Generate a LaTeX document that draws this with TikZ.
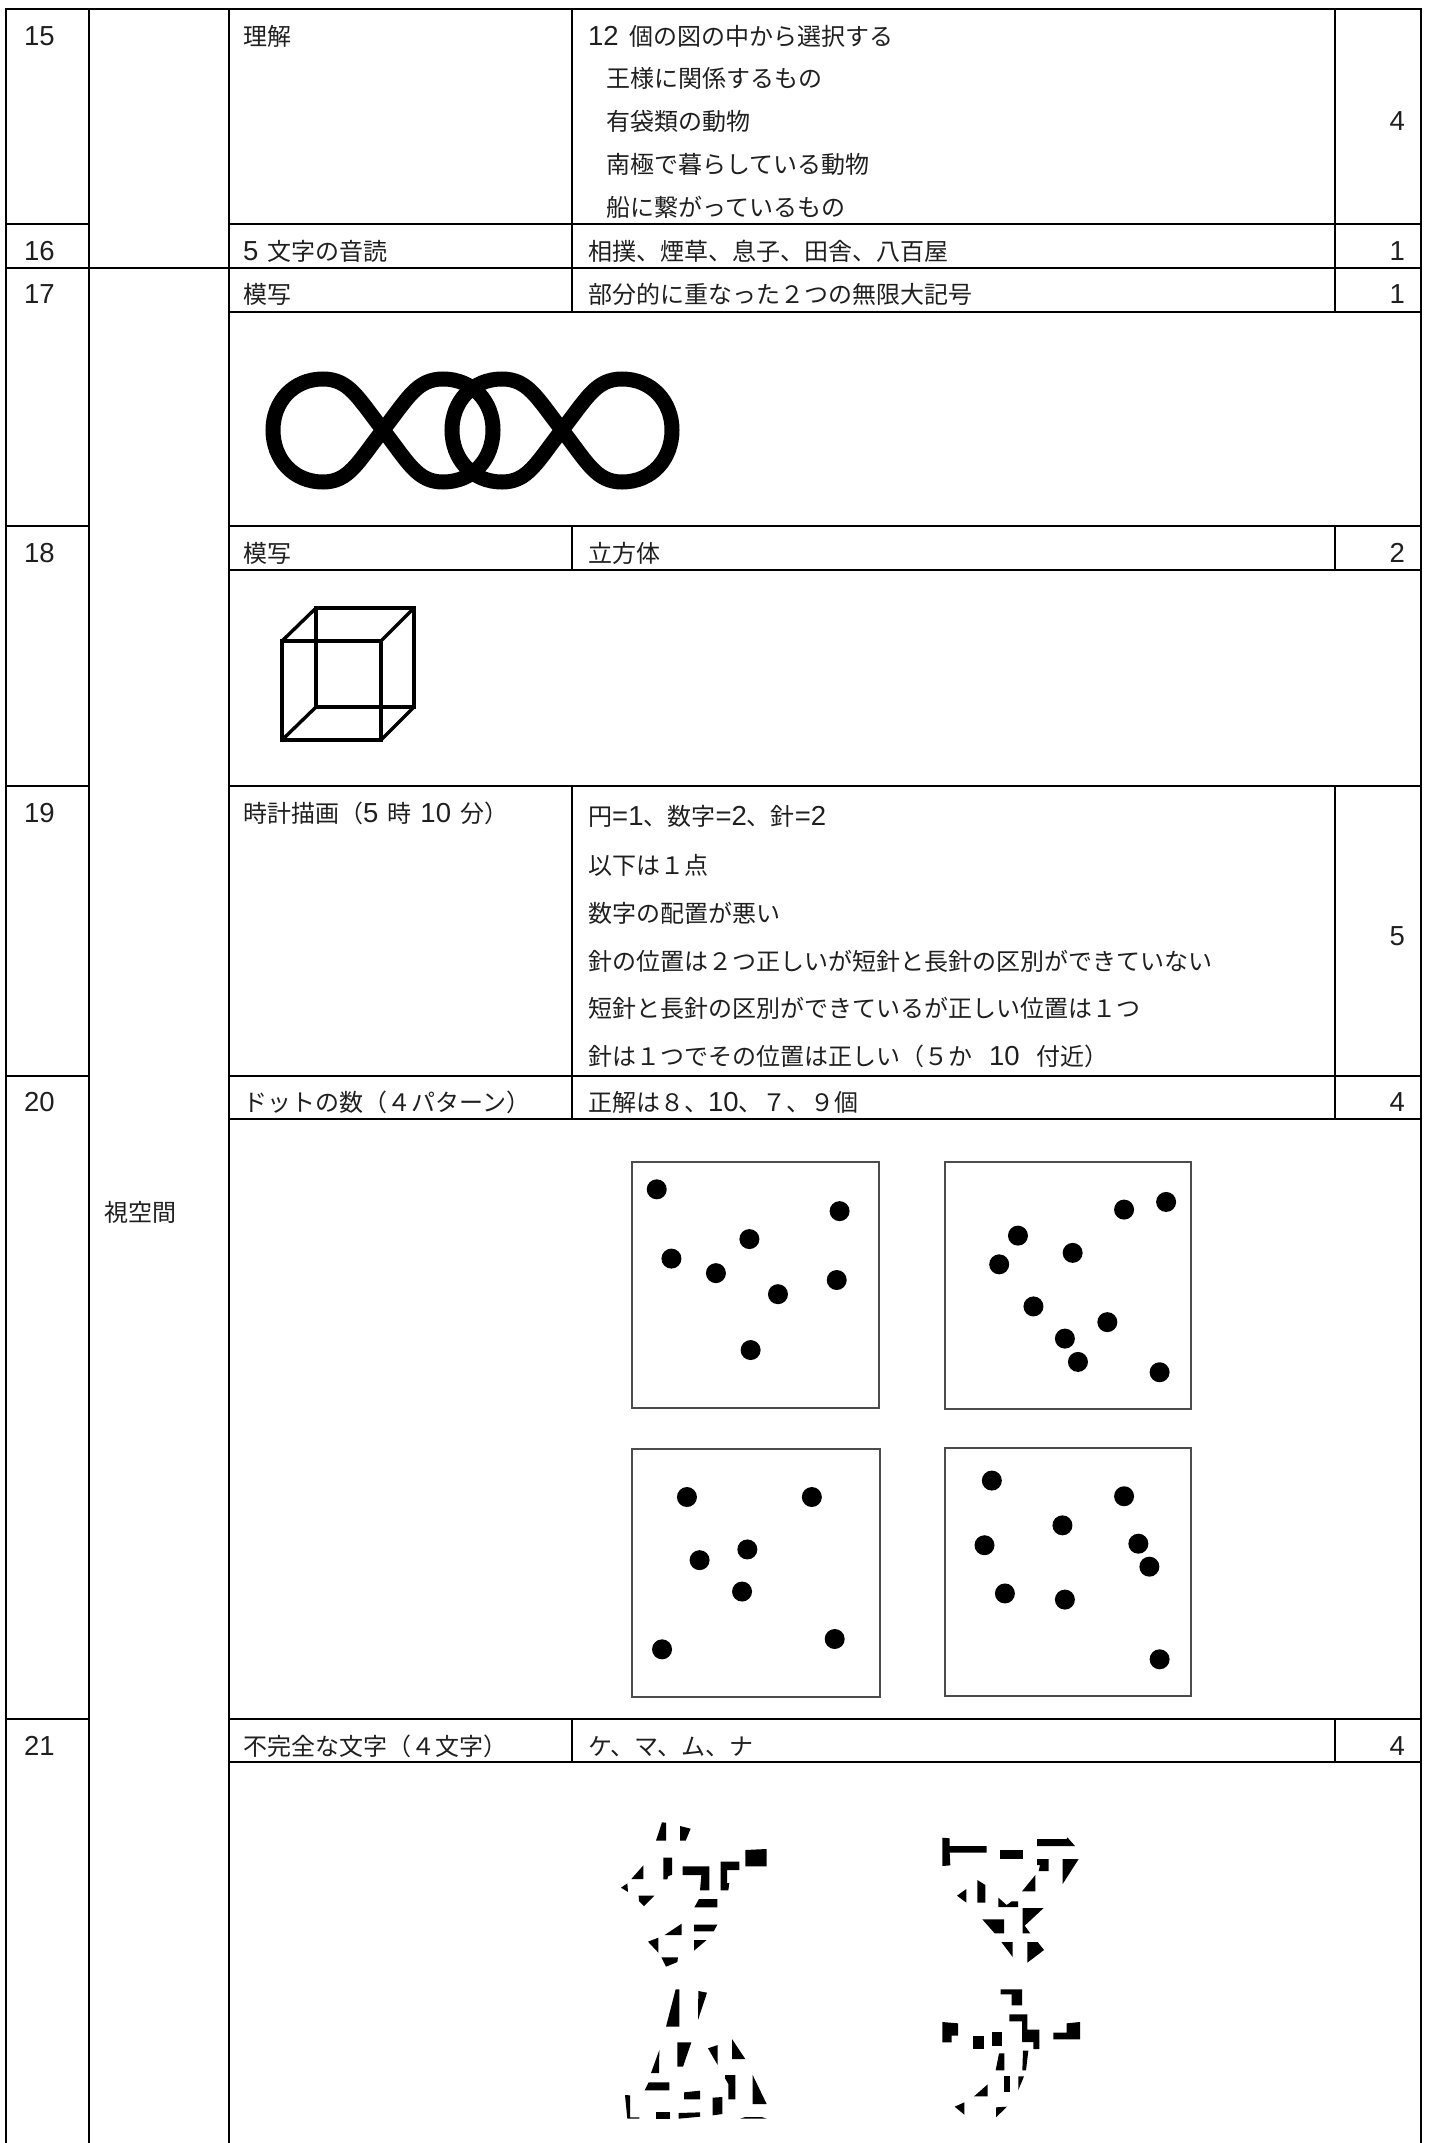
\documentclass[tikz,border=0pt]{standalone}
\usepackage{fontspec}
\setmainfont{Noto Sans CJK JP}
\newfontfamily\latf{Liberation Sans}
\newcommand{\dg}[1]{{\latf\fontsize{27.5}{30}\selectfont #1}}
\tikzset{
  rule/.style={line width=2.3pt,line cap=rect},
  txt/.style={anchor=west,inner sep=0pt,text height=20pt,text depth=1pt,font=\fontsize{24}{28}\selectfont,text=black!88},
  num/.style={anchor=east,inner sep=0pt,text height=20pt,text depth=1pt,font=\fontsize{24}{28}\selectfont,text=black!88},
  boxline/.style={draw=black!70,line width=1.3pt},
  figline/.style={line width=3.4pt,line join=miter},
  infline/.style={line width=15pt}
}
\begin{document}
\begin{tikzpicture}[x=1pt,y=-1pt]
\useasboundingbox (0,0) rectangle (1429,2143);
% table rules
\def\xa{6}\def\xb{89}\def\xc{229}\def\xd{572}\def\xe{1335}\def\xf{1421}
\draw[rule] (\xa,9) -- (\xf,9);
\foreach \x in {\xa,\xb,\xc,\xf} \draw[rule] (\x,9) -- (\x,2143);
\foreach \y in {224,268,526,786,1076,1719} {
  \draw[rule] (\xa,\y) -- (\xb,\y);
  \draw[rule] (\xc,\y) -- (\xf,\y);
}
\draw[rule] (\xb,268) -- (\xc,268);
\foreach \y in {312,570,1119,1762} \draw[rule] (\xc,\y) -- (\xf,\y);
\foreach \a/\b in {9/312,526/570,786/1119,1719/1762} {
  \draw[rule] (\xd,\a) -- (\xd,\b);
  \draw[rule] (\xe,\a) -- (\xe,\b);
}
% text
\node[txt] (n15) at (24,36) {\dg{15}};
\node[txt] (c15) at (243,36) {理解};
\node[txt] (d15a) at (588,36) {\dg{12}\hspace{11pt}個の図の中から選択する};
\node[txt] (d15b) at (606,78) {王様に関係するもの};
\node[txt] (d15c) at (606,121) {有袋類の動物};
\node[txt] (d15d) at (606,164) {南極で暮らしている動物};
\node[txt] (d15e) at (606,207) {船に繋がっているもの};
\node[num] (s15) at (1405,121) {\dg{4}};
\node[txt] (n16) at (24,251) {\dg{16}};
\node[txt] (c16) at (243,251) {\dg{5}\hspace{9pt}文字の音読};
\node[txt] (d16) at (588,251) {相撲、煙草、息子、田舎、八百屋};
\node[num] (s16) at (1405,251) {\dg{1}};
\node[txt] (n17) at (24,294) {\dg{17}};
\node[txt] (c17) at (243,294) {模写};
\node[txt] (d17) at (588,294) {部分的に重なった２つの無限大記号};
\node[num] (s17) at (1405,294) {\dg{1}};
\node[txt] (n18) at (24,553) {\dg{18}};
\node[txt] (c18) at (243,553) {模写};
\node[txt] (d18) at (588,553) {立方体};
\node[num] (s18) at (1405,553) {\dg{2}};
\node[txt] (n19) at (24,813) {\dg{19}};
\node[txt] (c19) at (243,813) {時計描画（\dg{5}\hspace{9pt}時\hspace{9pt}\dg{10}\hspace{9pt}分）};
\node[txt] (d19a) at (588,816) {円\dg{=1}、数字\dg{=2}、針\dg{=2}};
\node[txt] (d19b) at (588,865) {以下は１点};
\node[txt] (d19c) at (588,913) {数字の配置が悪い};
\node[txt] (d19d) at (588,961) {針の位置は２つ正しいが短針と長針の区別ができていない};
\node[txt] (d19e) at (588,1008) {短針と長針の区別ができているが正しい位置は１つ};
\node[txt] (d19f) at (588,1056) {針は１つでその位置は正しい（５か\hspace{17pt}\dg{10}\hspace{17pt}付近）};
\node[num] (s19) at (1405,936) {\dg{5}};
\node[txt] (n20) at (24,1102) {\dg{20}};
\node[txt] (c20) at (243,1102) {ドットの数（４パターン）};
\node[txt] (d20) at (588,1102) {正解は８、\dg{10}、７、９個};
\node[num] (s20) at (1405,1102) {\dg{4}};
\node[txt] (n21) at (24,1746) {\dg{21}};
\node[txt] (c21) at (243,1746) {不完全な文字（４文字）};
\node[txt] (d21) at (588,1746) {ケ、マ、ム、ナ};
\node[num] (s21) at (1405,1746) {\dg{4}};
\node[txt] (cat) at (104,1212) {視空間};
% infinity symbols
\foreach \s in {0,179} {
  \draw[infline,shift={(\s,0)}]
    (383,430) .. controls (358,398) and (349,379) .. (323,379)
    .. controls (293,379) and (273,402) .. (273,430)
    .. controls (273,459) and (293,482) .. (323,482)
    .. controls (349,482) and (358,462) .. (383,430)
    .. controls (408,398) and (417,379) .. (443,379)
    .. controls (473,379) and (493,402) .. (493,430)
    .. controls (493,459) and (473,482) .. (443,482)
    .. controls (417,482) and (408,462) .. (383,430) -- cycle;
}
% cube
\draw[figline] (282,641) rectangle (381,740);
\draw[figline] (316,608) rectangle (414,707);
\draw[figline] (282,641) -- (316,608);
\draw[figline] (381,641) -- (414,608);
\draw[figline] (282,740) -- (316,707);
\draw[figline] (381,740) -- (414,707);
% dot boxes
\draw[boxline] (632,1162) rectangle (879,1408);
\draw[boxline] (945,1162) rectangle (1191,1409);
\draw[boxline] (632,1449) rectangle (880,1697);
\draw[boxline] (945,1448) rectangle (1191,1696);
\foreach \X/\Y in {139/155,587/212,366/285,175/336,284/374,436/429,580/392,369/575,
  1284/208,1387/188,1024/276,1158/321,978/351,1062/461,1243/502,1139/545,1171/606,1371/633,
  213/959,519/959,361/1096,244/1124,348/1206,152/1357,575/1330,
  960/916,1284/957,1133/1033,942/1085,1319/1081,1346/1141,992/1211,1139/1227,1371/1383}
  \fill ({600+\X/2.45},{1130+\Y/2.613}) circle [radius=10pt];
% fragments
\begin{scope}[shift={(600,1780)},x=0.33333pt,y=-0.33333pt]
\foreach \p in {
 {(168,182)--(186,127)--(198,128)--(198,182)},
 {(240,182)--(240,138)--(272,146)--(257,182)},
 {(436,210)--(500,207)--(500,259)--(436,259)},
 {(190,233)--(216,233)--(216,284)--(204,289)--(202,298)--(190,298)},
 {(94,297)--(130,256)--(130,297)},
 {(63,323)--(82,310)--(84,336)},
 {(116,347)--(163,347)--(132,378)--(117,363)},
 {(248,259)--(328,259)--(328,331)--(300,331)--(304,285)--(248,285)},
 {(362,245)--(418,245)--(418,270)--(381,270)--(381,309)--(388,309)--(385,331)--(362,331)},
 {(297,357)--(352,357)--(352,382)--(283,382)},
 {(282,434)--(352,434)--(341,454)--(282,454)},
 {(194,465)--(245,431)--(245,465)},
 {(144,485)--(175,473)--(175,518)},
 {(282,480)--(320,480)--(282,512)},
 {(184,532)--(234,532)--(232,546)--(198,560)},
 {(227,628)--(238,628)--(238,740)--(198,740)},
 {(295,633)--(321,638)--(294,720)},
 {(232,787)--(274,787)--(249,860)--(232,860)},
 {(178,810)--(177,879)--(153,879)},
 {(324,805)--(353,795)--(353,855)},
 {(396,777)--(436,837)--(396,837)},
 {(146,907)--(208,907)--(208,931)--(134,931)},
 {(375,885)--(406,885)--(406,958)--(385,958)--(385,912)--(375,895)},
 {(458,885)--(500,972)--(458,972)},
 {(252,937)--(300,932)--(300,958)--(252,958)},
 {(338,953)--(367,951)--(367,1002)--(338,1006)},
 {(75,945)--(90,946)--(90,1012)--(118,1012)--(118,1016)--(82,1016)},
 {(167,997)--(211,997)--(211,1016)--(167,1016)},
 {(236,999)--(300,997)--(300,1010)--(236,1016)},
 {(420,1016)--(436,1011)--(485,1011)--(500,1016)}
} { \fill \p -- cycle; }
\end{scope}
\begin{scope}[shift={(900,1780)},x=0.33333pt,y=-0.33333pt]
\foreach \p in {
 {(127,173)--(149,175)--(149,198)--(260,198)--(260,218)--(149,218)--(151,256)--(127,258)},
 {(299,211)--(369,211)--(369,236)--(299,236)},
 {(411,177)--(500,177)--(502,172)--(525,198)--(411,198)},
 {(411,237)--(446,237)--(446,273)--(416,273)--(420,255)--(411,255)},
 {(488,237)--(536,237)--(488,312)},
 {(366,334)--(406,285)--(406,334)},
 {(232,300)--(256,315)--(256,368)--(232,368)},
 {(171,347)--(199,327)--(199,368)},
 {(295,353)--(320,375)--(335,364)--(354,364)--(354,381)--(295,381)},
 {(368,384)--(431,384)--(374,437)--(391,460)--(368,460)},
 {(247,418)--(312,418)--(312,460)--(284,460)},
 {(304,486)--(338,486)--(338,531)},
 {(382,486)--(413,486)--(432,510)--(382,548)},
 {(302,628)--(366,628)--(366,676)--(335,676)--(335,643)--(302,643)},
 {(328,703)--(382,703)--(382,749)--(418,749)--(418,807)--(400,807)--(400,786)--(366,786)--(366,724)--(328,724)},
 {(127,726)--(174,730)--(174,767)--(155,767)--(155,787)--(127,787)},
 {(219,767)--(253,767)--(253,808)--(219,808)},
 {(277,757)--(306,757)--(306,797)--(277,797)},
 {(500,730)--(540,726)--(540,778)--(460,778)--(460,758)--(500,758)},
 {(297,820)--(313,820)--(313,871)--(287,871)},
 {(369,812)--(385,812)--(378,871)--(367,871)},
 {(312,889)--(329,889)--(329,936)--(312,936)},
 {(355,889)--(372,889)--(355,930)},
 {(222,949)--(263,913)--(263,949)},
 {(164,980)--(193,967)--(193,1004)},
 {(288,982)--(321,980)--(288,1012)}
} { \fill \p -- cycle; }
\end{scope}
\end{tikzpicture}
\end{document}
